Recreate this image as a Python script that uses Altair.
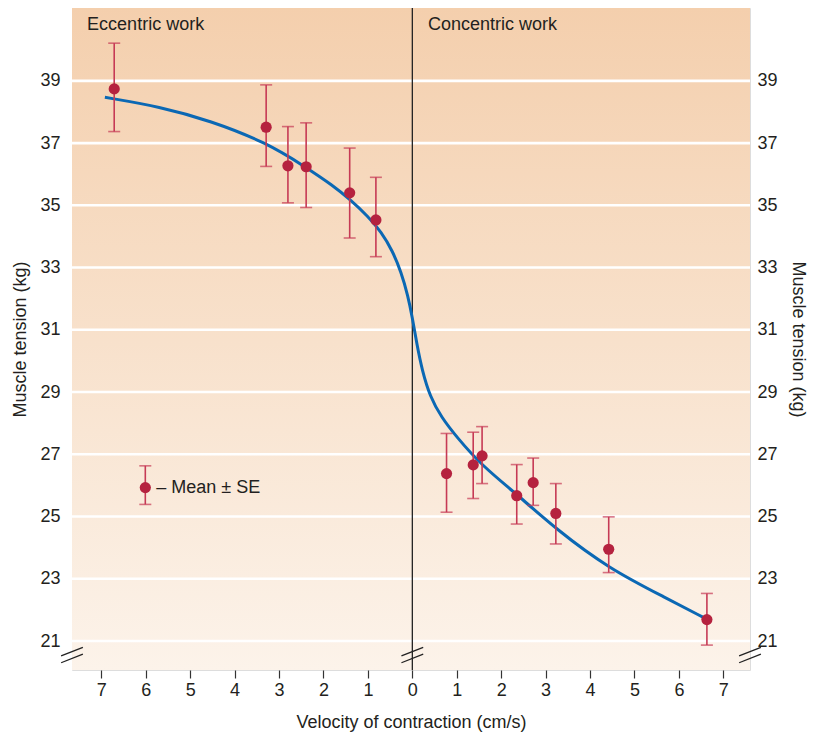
import altair as alt
import pandas as pd

# ---------------- data ----------------
# velocity (cm/s): eccentric negative, concentric positive
ecc_x = [-6.71, -3.29, -2.80, -2.39, -1.41, -0.82]
ecc_y = [38.74, 37.51, 36.27, 36.24, 35.40, 34.53]
ecc_hi = [40.21, 38.87, 37.53, 37.65, 36.84, 35.90]
ecc_lo = [37.37, 36.25, 35.08, 34.93, 33.95, 33.35]

con_x = [0.77, 1.37, 1.57, 2.35, 2.72, 3.23, 4.42, 6.63]
con_y = [26.38, 26.66, 26.95, 25.67, 26.09, 25.10, 23.95, 21.69]
con_hi = [27.67, 27.71, 27.89, 26.67, 26.88, 26.06, 24.99, 22.53]
con_lo = [25.14, 25.58, 26.06, 24.76, 25.36, 24.12, 23.20, 20.87]

curve_x = [-6.92, -5.68, -4.55, -3.29, -2.39, -1.80, -1.41, -1.00, -0.70, -0.45,
           -0.25, -0.10, 0.0, 0.10, 0.22, 0.40, 0.65, 1.00, 1.57, 2.35, 3.23,
           4.42, 5.73, 6.55]
curve_y = [38.47, 38.17, 37.72, 37.02, 36.22, 35.65, 35.20, 34.65, 34.15, 33.55,
           32.85, 32.10, 31.40, 30.55, 29.70, 28.85, 28.20, 27.55, 26.63, 25.72,
           24.60, 23.33, 22.37, 21.76]

legend_x = [-6.01]
legend_y = [25.93]
legend_hi = [26.63]
legend_lo = [25.39]
legend_label = ["– Mean ± SE"]

x_ticks = [-7, -6, -5, -4, -3, -2, -1, 0, 1, 2, 3, 4, 5, 6, 7]
y_ticks = [21, 23, 25, 27, 29, 31, 33, 35, 37, 39]

panel_labels = ["Eccentric work", "Concentric work"]
panel_label_x = [-7.32, 0.35]
panel_label_y = [40.64, 40.64]

x_domain = [-7.66, 7.6]
y_domain = [20.07, 41.34]
break_x = [-7.66, 0.0, 7.6]
break_y = 20.55

# ---------------- styling ----------------
W, H = 678, 662
FONT = "Liberation Sans"
FS = 18
TXT = "#231f20"
PT = "#b5223f"
ERR = "#c63a55"
LINE = "#0b68b4"

xs = alt.Scale(domain=x_domain, nice=False, zero=False)
ys = alt.Scale(domain=y_domain, nice=False, zero=False)

pts = pd.DataFrame({
    "x": ecc_x + con_x, "y": ecc_y + con_y,
    "hi": ecc_hi + con_hi, "lo": ecc_lo + con_lo,
})
leg = pd.DataFrame({"x": legend_x, "y": legend_y, "hi": legend_hi,
                    "lo": legend_lo, "label": legend_label})
curve = pd.DataFrame({"x": curve_x, "y": curve_y})
grid = pd.DataFrame({"y": y_ticks})
labels = pd.DataFrame({"x": panel_label_x, "y": panel_label_y, "t": panel_labels})

# break marks "//"
dx, dy, sep = 0.245, 0.137, 0.11
brk_rows = []
for bx in break_x:
    for off in (-sep, sep):
        brk_rows.append({"x": bx - dx, "x2": bx + dx,
                         "y": break_y + off - dy, "y2": break_y + off + dy})
brk = pd.DataFrame(brk_rows)

bg = alt.Chart(pd.DataFrame({"a": [0]})).mark_rect(
    fill=alt.Gradient(
        gradient="linear",
        stops=[alt.GradientStop(color="#f4cfad", offset=0),
               alt.GradientStop(color="#fcf3ea", offset=1)],
        x1=0, x2=0, y1=0, y2=1,
    )
).encode(x=alt.value(0), x2=alt.value(W), y=alt.value(0), y2=alt.value(H))

gridlines = alt.Chart(grid).mark_rule(color="white", strokeWidth=2.6).encode(
    x=alt.value(0), x2=alt.value(W),
    y=alt.Y("y:Q", scale=ys, axis=None),
)

axis_common = dict(labelFontSize=FS, titleFontSize=FS, labelFont=FONT,
                   titleFont=FONT, labelColor=TXT, titleColor=TXT,
                   titleFontWeight="normal", grid=False, domain=False)

left_axis = alt.Chart(grid).mark_point(opacity=0).encode(
    x=alt.X("x:Q", scale=xs, title="Velocity of contraction (cm/s)",
            axis=alt.Axis(values=x_ticks, labelExpr="abs(datum.value)",
                          tickSize=8, tickColor="#333", tickWidth=1.2,
                          labelPadding=3, titlePadding=14, **axis_common)),
    y=alt.Y("y:Q", scale=ys, title="Muscle tension (kg)",
            axis=alt.Axis(values=y_ticks, orient="left", ticks=False,
                          labelPadding=12, titlePadding=10, **axis_common)),
).transform_calculate(x="0")

right_axis = alt.Chart(grid).mark_point(opacity=0).encode(
    x=alt.X("x:Q", scale=xs, axis=None),
    y=alt.Y("y:Q", scale=ys, title="Muscle tension (kg)",
            axis=alt.Axis(values=y_ticks, orient="right", ticks=False,
                          labelPadding=7, titlePadding=11, **axis_common)),
).transform_calculate(x="0")

center = alt.Chart(pd.DataFrame({"x": [0.0]})).mark_rule(color="#222", strokeWidth=1.3).encode(
    x=alt.X("x:Q", scale=xs, axis=None), y=alt.value(0), y2=alt.value(H)
)

line = alt.Chart(curve).mark_line(color=LINE, strokeWidth=3, interpolate="basis").encode(
    x=alt.X("x:Q", scale=xs, axis=None), y=alt.Y("y:Q", scale=ys, axis=None)
)

def err_layers(df):
    r = alt.Chart(df).mark_rule(color=ERR, strokeWidth=1.6).encode(
        x=alt.X("x:Q", scale=xs, axis=None),
        y=alt.Y("lo:Q", scale=ys, axis=None), y2="hi:Q")
    t1 = alt.Chart(df).mark_tick(color=ERR, thickness=1.6, size=12, orient="horizontal").encode(
        x=alt.X("x:Q", scale=xs, axis=None), y=alt.Y("hi:Q", scale=ys, axis=None))
    t2 = alt.Chart(df).mark_tick(color=ERR, thickness=1.6, size=12, orient="horizontal").encode(
        x=alt.X("x:Q", scale=xs, axis=None), y=alt.Y("lo:Q", scale=ys, axis=None))
    p = alt.Chart(df).mark_circle(color=PT, opacity=1, size=125).encode(
        x=alt.X("x:Q", scale=xs, axis=None), y=alt.Y("y:Q", scale=ys, axis=None))
    return [r, t1, t2, p]

leg_text = alt.Chart(leg).mark_text(align="left", baseline="middle", dx=11, font=FONT,
                                    fontSize=FS, color=TXT).encode(
    x=alt.X("x:Q", scale=xs, axis=None), y=alt.Y("y:Q", scale=ys, axis=None), text="label:N")

panel_text = alt.Chart(labels).mark_text(align="left", baseline="alphabetic", font=FONT,
                                         fontSize=FS, color=TXT).encode(
    x=alt.X("x:Q", scale=xs, axis=None), y=alt.Y("y:Q", scale=ys, axis=None), text="t:N")

breaks = alt.Chart(brk).mark_rule(color="#222", strokeWidth=1.3).encode(
    x=alt.X("x:Q", scale=xs, axis=None), x2="x2:Q",
    y=alt.Y("y:Q", scale=ys, axis=None), y2="y2:Q")

layers = [bg, gridlines, left_axis, right_axis, center, line] + err_layers(pts) + \
    err_layers(leg) + [leg_text, panel_text, breaks]

chart = alt.layer(*layers).resolve_axis(y="independent", x="independent").properties(
    width=W, height=H,
    autosize=alt.AutoSizeParams(type="none"),
    padding={"left": 64, "top": 0, "right": 62, "bottom": 64},
).configure_view(stroke="#333", strokeWidth=1.5).configure(background="white")

chart.save("out.html", embed_options={"renderer": "svg", "actions": False})
